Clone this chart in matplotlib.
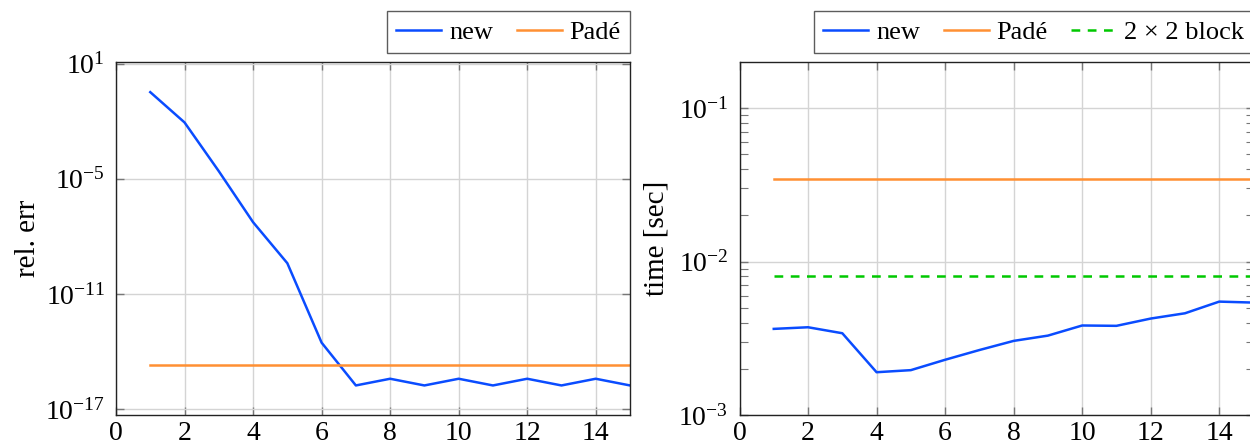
import numpy as np
import matplotlib
matplotlib.use("Agg")
import matplotlib.pyplot as plt
from matplotlib.ticker import LogLocator, NullLocator, NullFormatter

plt.rcParams["font.family"] = ["Liberation Serif", "DejaVu Serif"]
plt.rcParams["mathtext.fontset"] = "stix"

# data
n = np.arange(1, 16)
err_new = [3.3e-1, 8.7e-3, 2.5e-5, 5.5e-8, 4.0e-10, 2.9e-14, 1.7e-16, 3.8e-16,
           1.7e-16, 3.8e-16, 1.7e-16, 3.8e-16, 1.7e-16, 3.8e-16, 1.7e-16]
err_pade = [2.0e-15] * 15

time_new = [0.00364, 0.00373, 0.00341, 0.00190, 0.00196, 0.00229, 0.00265, 0.00304,
            0.00329, 0.00383, 0.00381, 0.00425, 0.00460, 0.00548, 0.00540]
time_pade = [0.0343] * 15
time_block = [0.0080] * 15

blue = "#0a4cff"
orange = "#ff9033"
green = "#00c800"
gridc = "#d4d4d4"

fig = plt.figure(figsize=(12.5, 4.46), dpi=100)
ax1 = fig.add_axes([0.0928, 0.0695, 0.4112, 0.7915])
ax2 = fig.add_axes([0.5916, 0.0695, 0.4112, 0.7915])


def style(ax):
    ax.set_xlim(0, 15)
    ax.set_xticks(range(0, 15, 2))
    ax.grid(True, which="major", color=gridc, lw=1.0)
    ax.set_axisbelow(True)
    ax.tick_params(which="both", direction="in", top=True, right=True,
                   labelsize=20, color="#777777")
    ax.tick_params(which="major", length=6, width=1.0)
    ax.tick_params(which="minor", length=5.5, width=0.8)
    ax.tick_params(axis="x", pad=4)
    ax.tick_params(axis="y", pad=8)
    for s in ax.spines.values():
        s.set_color("#222222")
        s.set_linewidth(1.0)


def legend(ax, ncol):
    leg = ax.legend(loc="lower right", bbox_to_anchor=(1.0, 1.025), ncol=ncol,
                    borderaxespad=0, fontsize=19, fancybox=False, frameon=True,
                    handlelength=1.7, columnspacing=0.9, handletextpad=0.3,
                    borderpad=0.35)
    leg.get_frame().set_edgecolor("#333333")
    leg.get_frame().set_linewidth(1.0)


ax1.semilogy(n, err_new, color=blue, lw=1.8, label="new")
ax1.semilogy(n, err_pade, color=orange, lw=1.8, label="Padé")
ax1.set_ylim(10 ** -17.31, 10 ** 1.09)
ax1.set_yticks([1e1, 1e-5, 1e-11, 1e-17])
ax1.yaxis.set_minor_locator(NullLocator())
ax1.set_ylabel("rel. err", fontsize=21, labelpad=3)
style(ax1)
legend(ax1, 2)

ax2.semilogy(n, time_new, color=blue, lw=1.8, label="new")
ax2.semilogy(n, time_pade, color=orange, lw=1.8, label="Padé")
ax2.semilogy(n, time_block, color=green, lw=1.8, ls=(0, (3.5, 3)),
             label="2 × 2 block")
ax2.set_ylim(1e-3, 10 ** -0.7)
ax2.yaxis.set_major_locator(LogLocator(base=10))
ax2.yaxis.set_minor_locator(LogLocator(base=10, subs=np.arange(2, 10)))
ax2.yaxis.set_minor_formatter(NullFormatter())
ax2.set_ylabel("time [sec]", fontsize=21, labelpad=6.5)
style(ax2)
legend(ax2, 3)

fig.savefig("out.png", dpi=100)
